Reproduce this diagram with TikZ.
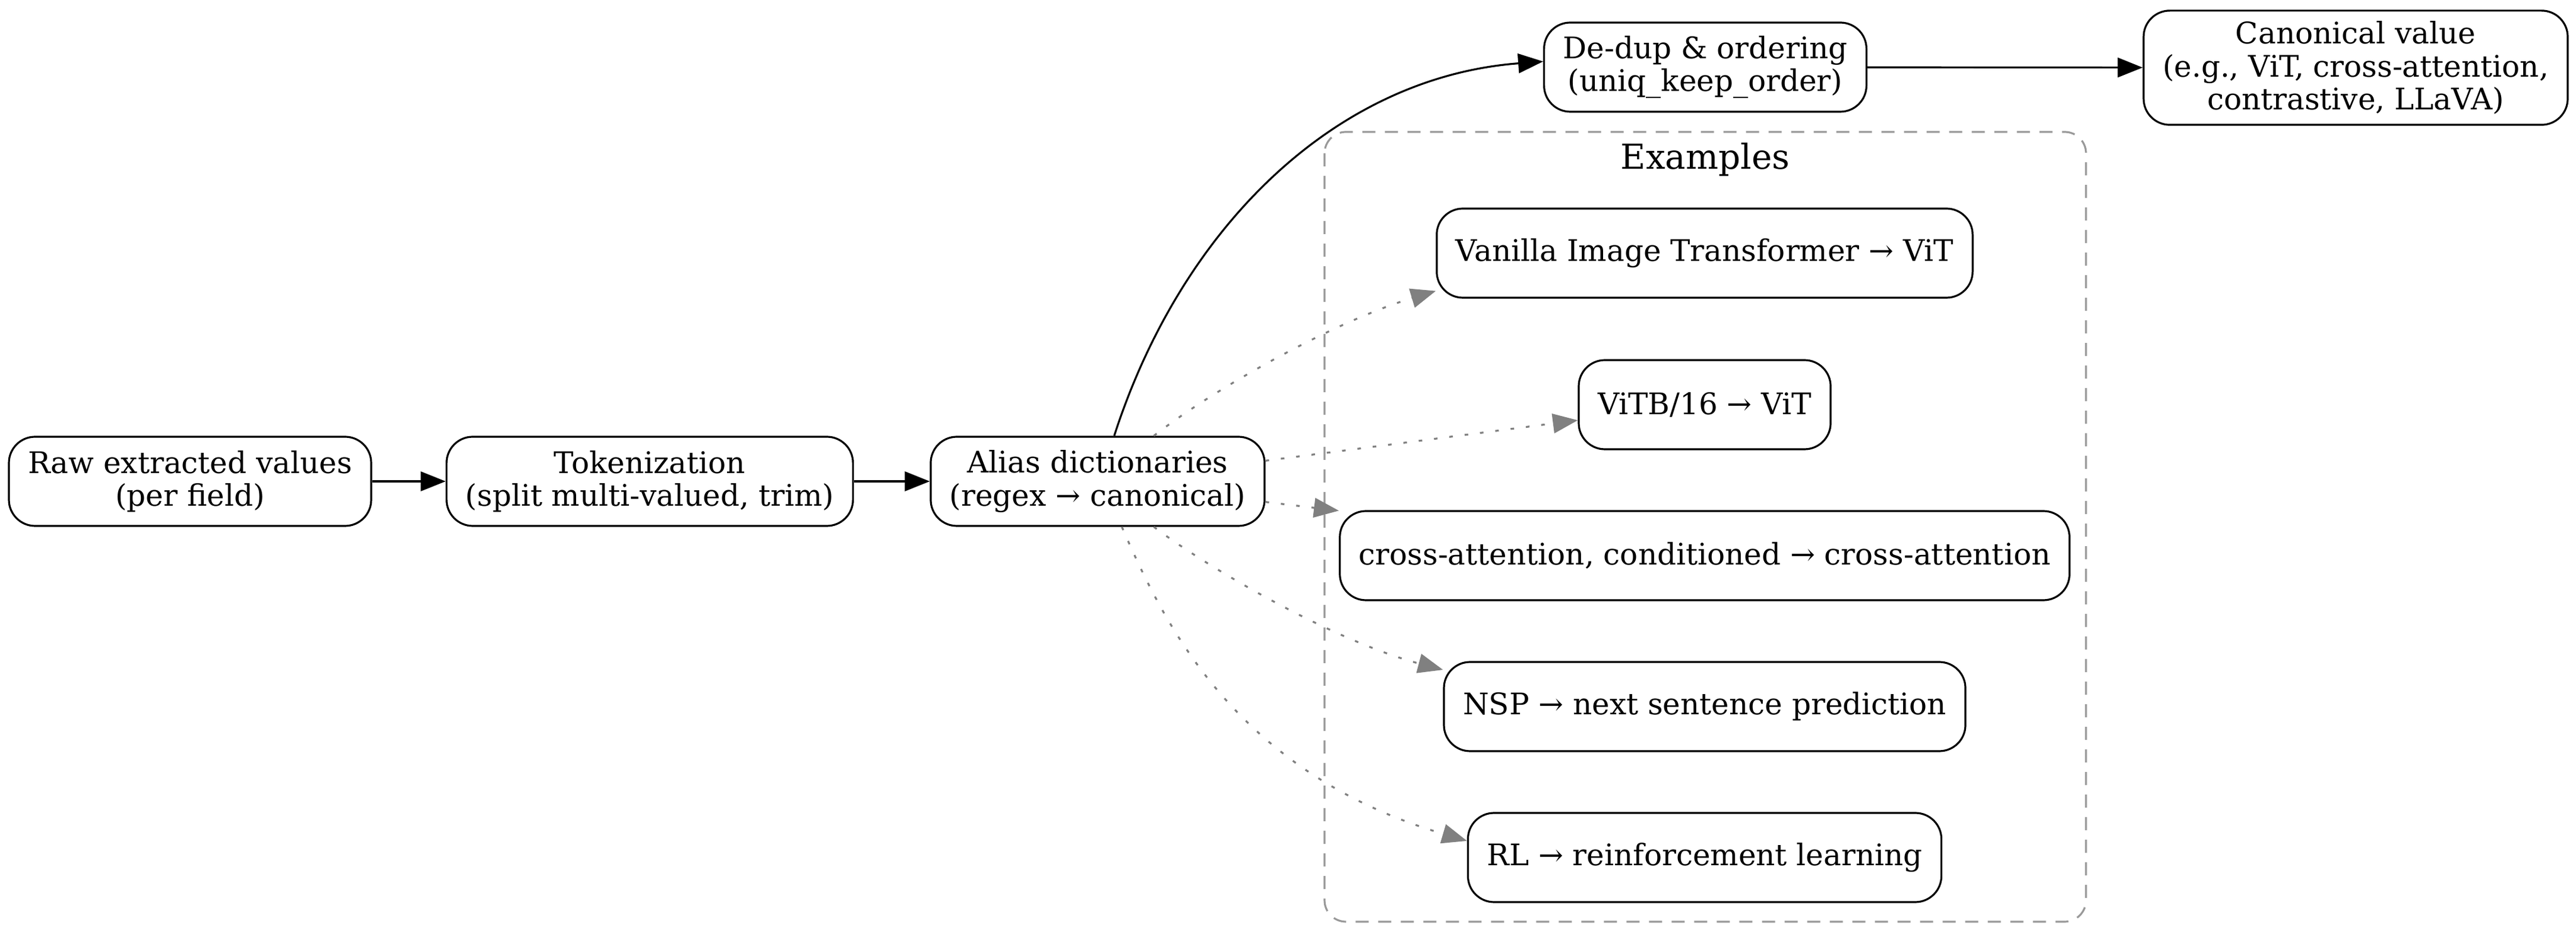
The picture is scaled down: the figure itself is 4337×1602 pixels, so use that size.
\documentclass[tikz,border=0pt]{standalone}
\usepackage{fontspec}
\setmainfont{DejaVu Serif}
\usepackage{tikz}
\usetikzlibrary{arrows.meta}
\tikzstyle{box} = [draw, rounded corners=11pt, line width=0.8pt, align=center, font=\fontsize{12.5}{13.8}\selectfont, inner xsep=8pt, inner ysep=4.5pt, minimum height=37.5pt]
\tikzstyle{line} = [draw, line width=0.8pt, -{Triangle[length=10.5pt, width=8.2pt]}]
\tikzstyle{dotline} = [draw, gray, line width=0.8pt, dash pattern=on 1.5pt off 5pt, -{Triangle[length=10.5pt, width=8.2pt]}]
\tikzstyle{cluster} = [draw, black!40, line width=0.8pt, dash pattern=on 5.5pt off 4pt, rounded corners=9pt]

\begin{document}
\begin{tikzpicture}[x=0.25pt, y=-0.25pt]
			\useasboundingbox (0, 0) rectangle (4337, 1602);
			\path [cluster] (2230, 222) rectangle (3512, 1551);
			\node [font=\fontsize{14.5}{17}\selectfont] (examples) at (2871, 269) {Examples};
			
			\node [box] (raw) at (320, 810) {Raw extracted values\\(per field)};
			\node [box] (token) at (1094, 810) {Tokenization\\(split multi-valued, trim)};
			\node [box] (alias) at (1848, 810) {Alias dictionaries\\(regex → canonical)};
			\node [box] (dedup) at (2871, 113) {De-dup \& ordering\\(uniq\_keep\_order)};
			\node [box] (canon) at (3966, 114) {Canonical value\\(e.g., ViT, cross-attention,\\contrastive, LLaVA)};
			\node [box] (vanilla) at (2870, 426) {Vanilla Image Transformer → ViT};
			\node [box] (vitb) at (2870, 681) {ViTB/16 → ViT};
			\node [box] (cross) at (2870, 935) {cross-attention, conditioned → cross-attention};
			\node [box] (nsp) at (2870, 1189) {NSP → next sentence prediction};
			\node [box] (rl) at (2870, 1443) {RL → reinforcement learning};
			
			\path [line] (raw) -- (token);
			\path [line] (token) -- (alias);
			\path [line] (alias.70) .. controls (1990, 380) and (2250, 130) .. (dedup.178);
			\path [line] (dedup) -- (canon);
			\path [dotline] (alias.39) .. controls (2050, 650) and (2250, 540) .. (vanilla.188);
			\path [dotline] (alias.7) -- (vitb.187);
			\path [dotline] (alias.-7) -- (cross.173);
			\path [dotline] (alias.-39) .. controls (2040, 960) and (2250, 1080) .. (nsp.172);
			\path [dotline] (alias.-62) .. controls (1960, 1050) and (2080, 1300) .. (rl.176);
		\end{tikzpicture}
\end{document}
